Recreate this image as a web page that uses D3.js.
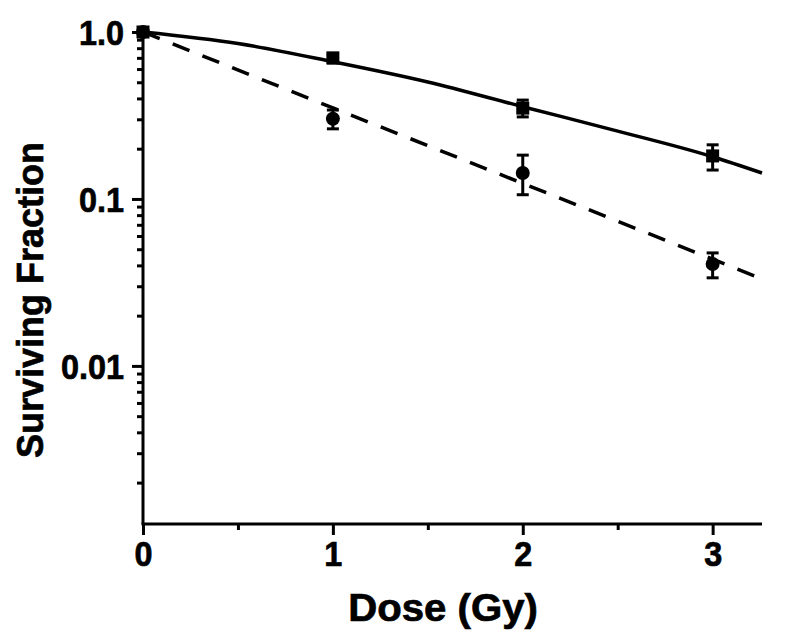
<!DOCTYPE html>
<html>
<head>
<meta charset="utf-8">
<script src="https://cdn.jsdelivr.net/npm/d3@7"></script>
<style>
  html, body { margin: 0; padding: 0; background: #fff; }
  svg { display: block; }
  text { font-family: "Liberation Sans", Arial, Helvetica, sans-serif; font-weight: bold; fill: #000; stroke: #000; stroke-width: 0.7px; }
</style>
</head>
<body>
<svg id="chart" width="800" height="642"></svg>
<script>
// ---- data ----
const doses = [0, 1, 2, 3];
// solid line / squares
const squareMean = [1.0, 0.70, 0.350, 0.181];
const squareLow  = [1.0, 0.652, 0.310, 0.149];
const squareHigh = [1.0, 0.738, 0.391, 0.211];
// dashed line / circles
const circleMean = [1.0, 0.302, 0.143, 0.0408];
const circleLow  = [1.0, 0.263, 0.106, 0.0337];
const circleHigh = [1.0, 0.341, 0.183, 0.0475];
// fitted curves
const solidFitDose  = [0, 0.5, 1, 1.5, 2, 2.5, 3, 3.26];
const solidFitValue = [1.0, 0.853, 0.664, 0.502, 0.357, 0.255, 0.179, 0.143];
const dashFitDose   = [0, 1, 2, 3, 3.26];
const dashFitValue  = [1.0, 0.351, 0.124, 0.0436, 0.0332];
// axis ticks
const xMajorTicks = [0, 1, 2, 3];
const xMinorTicks = [0.5, 1.5, 2.5];
const yMajorTicks = [1, 0.1, 0.01];
const yTickLabels = ["1.0", "0.1", "0.01"];
const yMinorTicks = [0.9,0.8,0.7,0.6,0.5,0.4,0.3,0.2,
                     0.09,0.08,0.07,0.06,0.05,0.04,0.03,0.02,
                     0.009,0.008,0.007,0.006,0.005,0.004,0.003,0.002];
const xTitle = "Dose (Gy)";
const yTitle = "Surviving Fraction";

// ---- layout ----
const svg = d3.select("#chart");
const mLeft = 143, mRight = 762, mTop = 32, mBottom = 524;
const x = d3.scaleLinear().domain([0, 3.26]).range([mLeft, mRight]);
const y = d3.scaleLog().domain([0.00113, 1]).range([mBottom, mTop]);
const tickStretch = 0.9;

// ---- x axis ----
const gx = svg.append("g").attr("transform", `translate(0,${mBottom})`);
gx.append("g").call(d3.axisBottom(x).tickValues(xMinorTicks).tickSize(6).tickFormat(""))
  .call(g => g.select(".domain").remove());
gx.append("g").call(d3.axisBottom(x).tickValues(xMajorTicks).tickSize(11).tickSizeOuter(0).tickFormat(d3.format("d")))
  .call(g => g.select(".domain").attr("d", `M${mLeft - 1.5},0H${mRight}`));
gx.selectAll("line, path").attr("stroke", "#000").attr("stroke-width", 3);
gx.selectAll("text")
  .attr("font-size", 36).attr("dy", null).attr("y", 42).attr("x", 0)
  .attr("transform", `scale(${tickStretch},1)`);

// ---- y axis ----
const gy = svg.append("g").attr("transform", `translate(${mLeft},0)`);
gy.append("g").call(d3.axisLeft(y).tickValues(yMinorTicks).tickSize(6).tickFormat(""))
  .call(g => g.select(".domain").remove());
gy.append("g").call(d3.axisLeft(y).tickValues(yMajorTicks).tickSize(11).tickSizeOuter(0)
    .tickFormat((d, i) => yTickLabels[i]))
  .call(g => g.select(".domain").attr("d", `M0,${mTop}V${mBottom}`));
gy.selectAll("line, path").attr("stroke", "#000").attr("stroke-width", 3);
gy.selectAll("text")
  .attr("font-size", 36).attr("dy", "0.36em")
  .attr("x", -19 / tickStretch)
  .attr("transform", `scale(${tickStretch},1)`);

// ---- axis titles ----
svg.append("text")
  .attr("transform", `translate(443,621) scale(1.03,1)`)
  .attr("text-anchor", "middle").attr("font-size", 39)
  .text(xTitle);
svg.append("text")
  .attr("transform", `translate(43,300) rotate(-90)`)
  .attr("text-anchor", "middle").attr("font-size", 36)
  .text(yTitle);

// ---- fit lines ----
svg.append("path")
  .datum(solidFitDose.map((d, i) => [d, solidFitValue[i]]))
  .attr("d", d3.line().x(d => x(d[0])).y(d => y(d[1])).curve(d3.curveMonotoneX))
  .attr("fill", "none").attr("stroke", "#000").attr("stroke-width", 3.5);
svg.append("path")
  .datum(dashFitDose.map((d, i) => [d, dashFitValue[i]]))
  .attr("d", d3.line().x(d => x(d[0])).y(d => y(d[1])))
  .attr("fill", "none").attr("stroke", "#000").attr("stroke-width", 3.5)
  .attr("stroke-dasharray", "18,14");

// ---- error bars ----
function errorBars(low, high) {
  const g = svg.append("g").attr("stroke", "#000").attr("stroke-width", 3);
  doses.forEach((d, i) => {
    if (high[i] === low[i]) return;
    const cx = x(d), capW = 6;
    g.append("line").attr("x1", cx).attr("x2", cx).attr("y1", y(high[i])).attr("y2", y(low[i]));
    g.append("line").attr("x1", cx - capW).attr("x2", cx + capW).attr("y1", y(high[i])).attr("y2", y(high[i]));
    g.append("line").attr("x1", cx - capW).attr("x2", cx + capW).attr("y1", y(low[i])).attr("y2", y(low[i]));
  });
}
errorBars(squareLow, squareHigh);
errorBars(circleLow, circleHigh);

// ---- markers ----
const sq = 13;
svg.append("g").selectAll("rect").data(doses.map((d, i) => [d, squareMean[i]]))
  .join("rect")
  .attr("x", d => x(d[0]) - sq / 2).attr("y", d => y(d[1]) - sq / 2)
  .attr("width", sq).attr("height", sq).attr("fill", "#000");
svg.append("g").selectAll("circle").data(doses.map((d, i) => [d, circleMean[i]]))
  .join("circle")
  .attr("cx", d => x(d[0])).attr("cy", d => y(d[1])).attr("r", 7).attr("fill", "#000");
</script>
</body>
</html>
